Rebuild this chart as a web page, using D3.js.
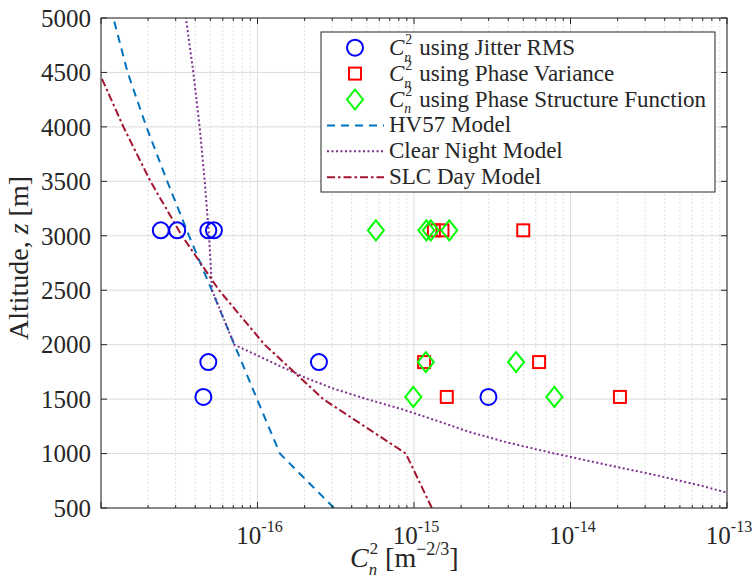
<!DOCTYPE html>
<html>
<head>
<meta charset="utf-8">
<script src="https://cdn.jsdelivr.net/npm/d3@7"></script>
<style>
body { margin: 0; background: #fff; }
text { font-family: "Liberation Serif", serif; fill: #262626; }
</style>
</head>
<body>
<svg id="chart" width="752" height="580"></svg>
<script>
// measured points (altitude in m, Cn2 in m^-2/3)
var jitterAlt = [3050, 3050, 3050, 3050, 1840, 1840, 1520, 1520];
var jitterRms = [2.41e-17, 3.07e-17, 4.85e-17, 5.27e-17, 4.85e-17, 2.47e-16, 4.51e-17, 2.99e-15];

var phaseVarAlt = [3050, 3050, 3050, 1840, 1840, 1520, 1520];
var phaseVariance = [1.34e-15, 1.52e-15, 4.99e-15, 1.16e-15, 6.3e-15, 1.62e-15, 2.07e-14];

var structAlt = [3050, 3050, 3050, 3050, 1840, 1840, 1520, 1520];
var phaseStructure = [5.71e-16, 1.2e-15, 1.28e-15, 1.68e-15, 1.19e-15, 4.49e-15, 9.9e-16, 7.89e-15];

// model profiles
var modelAlt = [500, 1000, 1500, 2000, 2500, 3000, 3500, 4000, 4500, 5000];
var hv57 = [3.08e-16, 1.39e-16, 9.93e-17, 7.12e-17, 5.1e-17, 3.65e-17, 2.65e-17, 1.95e-17, 1.48e-17, 1.2e-17];
var slcDay = [1.3e-15, 8.87e-16, 2.63e-16, 1.11e-16, 5.68e-17, 3.29e-17, 2.07e-17, 1.39e-17, 9.73e-18, 7.1e-18];

var nightAlt = [600, 700, 800, 900, 1000, 1100, 1200, 1300, 1400, 1500, 1600, 1700, 1800, 1900, 2000, 2500, 3000, 3500, 4000, 4500, 5000];
var clearNight = [1.26e-13, 7.08e-14, 3.55e-14, 1.66e-14, 7.94e-15, 3.98e-15, 2.24e-15, 1.41e-15, 8.7e-16, 5.0e-16, 3.0e-16, 2.0e-16, 1.41e-16, 1.0e-16, 7.1e-17, 5.13e-17, 4.9e-17, 4.6e-17, 4.27e-17, 3.89e-17, 3.49e-17];

var xTickLabels = ["-16", "-15", "-14", "-13"];

var pLeft = 101, pRight = 727, pTop = 18, pBottom = 508;
var axisColor = "#262626";

var svg = d3.select("#chart");
var xScale = d3.scaleLog().domain([1e-17, 1e-13]).range([pLeft, pRight]);
var yScale = d3.scaleLinear().domain([500, 5000]).range([pBottom, pTop]);

var xTicks = xScale.ticks();
var isMajor = function(v){ return Math.abs(Math.log10(v) - Math.round(Math.log10(v))) < 1e-6; };
var xMajor = xTicks.filter(isMajor);
var xMinor = xTicks.filter(function(v){ return !isMajor(v); });
var yTicks = yScale.ticks(10);

// grid
var grid = svg.append("g");
grid.selectAll(".minor").data(xMinor).enter().append("line")
    .attr("x1", function(d){ return xScale(d); }).attr("x2", function(d){ return xScale(d); })
    .attr("y1", pTop).attr("y2", pBottom)
    .attr("stroke", "#d4d4d4").attr("stroke-width", 1).attr("stroke-dasharray", "1.5,2.5");
grid.selectAll(".major").data(xMajor).enter().append("line")
    .attr("x1", function(d){ return xScale(d); }).attr("x2", function(d){ return xScale(d); })
    .attr("y1", pTop).attr("y2", pBottom)
    .attr("stroke", "#dcdcdc").attr("stroke-width", 1);
grid.selectAll(".ygrid").data(yTicks).enter().append("line")
    .attr("x1", pLeft).attr("x2", pRight)
    .attr("y1", function(d){ return yScale(d); }).attr("y2", function(d){ return yScale(d); })
    .attr("stroke", "#dcdcdc").attr("stroke-width", 1);

// model lines
svg.append("clipPath").attr("id", "plotclip").append("rect")
    .attr("x", pLeft).attr("y", pTop).attr("width", pRight - pLeft).attr("height", pBottom - pTop);

var line = d3.line().x(function(d){ return xScale(d[1]); }).y(function(d){ return yScale(d[0]); });
var models = [
    { alt: modelAlt, val: hv57, color: "#0072bd", dash: "8,6" },
    { alt: nightAlt, val: clearNight, color: "#7e2f8e", dash: "2,2.5" },
    { alt: modelAlt, val: slcDay, color: "#a2142f", dash: "8,3,2.5,3" }
];
var lines = svg.append("g").attr("clip-path", "url(#plotclip)");
models.forEach(function(m){
    lines.append("path")
        .datum(d3.zip(m.alt, m.val))
        .attr("d", line)
        .attr("fill", "none")
        .attr("stroke", m.color)
        .attr("stroke-width", 2)
        .attr("stroke-dasharray", m.dash);
});

// markers
var marks = svg.append("g");
marks.selectAll(".circ").data(d3.zip(jitterAlt, jitterRms)).enter().append("circle")
    .attr("cx", function(d){ return xScale(d[1]); })
    .attr("cy", function(d){ return yScale(d[0]); })
    .attr("r", 8).attr("fill", "none").attr("stroke", "#0000ff").attr("stroke-width", 2);
marks.selectAll(".sq").data(d3.zip(phaseVarAlt, phaseVariance)).enter().append("rect")
    .attr("x", function(d){ return xScale(d[1]) - 6; })
    .attr("y", function(d){ return yScale(d[0]) - 6; })
    .attr("width", 12).attr("height", 12)
    .attr("fill", "none").attr("stroke", "#ff0000").attr("stroke-width", 2);
var diamond = function(cx, cy){ return "M" + cx + "," + (cy - 10) + "L" + (cx + 8) + "," + cy + "L" + cx + "," + (cy + 10) + "L" + (cx - 8) + "," + cy + "Z"; };
marks.selectAll(".dia").data(d3.zip(structAlt, phaseStructure)).enter().append("path")
    .attr("d", function(d){ return diamond(xScale(d[1]), yScale(d[0])); })
    .attr("fill", "none").attr("stroke", "#00ff00").attr("stroke-width", 2);

// box + ticks
var axes = svg.append("g");
axes.append("rect").attr("x", pLeft).attr("y", pTop).attr("width", pRight - pLeft).attr("height", pBottom - pTop)
    .attr("fill", "none").attr("stroke", axisColor).attr("stroke-width", 1);
yTicks.forEach(function(t){
    var yy = yScale(t);
    axes.append("line").attr("x1", pLeft).attr("x2", pLeft + 6).attr("y1", yy).attr("y2", yy).attr("stroke", axisColor);
    axes.append("line").attr("x1", pRight).attr("x2", pRight - 6).attr("y1", yy).attr("y2", yy).attr("stroke", axisColor);
    axes.append("text").attr("x", pLeft - 10).attr("y", yy).attr("dy", "0.35em")
        .attr("text-anchor", "end").style("font-size", "25px").text(t);
});
xTicks.forEach(function(t){
    var xx = xScale(t), len = isMajor(t) ? 6 : 3;
    axes.append("line").attr("x1", xx).attr("x2", xx).attr("y1", pBottom).attr("y2", pBottom - len).attr("stroke", axisColor);
    axes.append("line").attr("x1", xx).attr("x2", xx).attr("y1", pTop).attr("y2", pTop + len).attr("stroke", axisColor);
});
xMajor.slice(1).forEach(function(t, i){
    var lab = axes.append("text").attr("x", xScale(t) + 2).attr("y", 544).attr("text-anchor", "middle");
    lab.append("tspan").style("font-size", "25px").text("10");
    lab.append("tspan").attr("dy", -12).style("font-size", "16px").text(xTickLabels[i]);
});

// C_n^2 with stacked sub/superscript, returns x after it
function cn2(g, x0, yb, fs)
{
    var c = g.append("text").attr("x", x0).attr("y", yb).style("font-size", fs + "px").style("font-style", "italic").text("C");
    var w = c.node().getComputedTextLength();
    var s = fs * 0.6;
    var sup = g.append("text").attr("x", x0 + w + 1).attr("y", yb - fs * 0.45).style("font-size", s + "px").text("2");
    var sub = g.append("text").attr("x", x0 + w).attr("y", yb + fs * 0.3).style("font-size", s + "px").style("font-style", "italic").text("n");
    return x0 + w + Math.max(sup.node().getComputedTextLength() + 1, sub.node().getComputedTextLength());
}

// axis titles
var yt = svg.append("text").attr("transform", "translate(28,258) rotate(-90)")
    .attr("text-anchor", "middle").style("font-size", "28px");
yt.append("tspan").text("Altitude, ");
yt.append("tspan").style("font-style", "italic").text("z");
yt.append("tspan").text(" [m]");

var xt = svg.append("g");
var after = cn2(xt, 350, 567, 28);
var rest = xt.append("text").attr("x", after + 7).attr("y", 567).style("font-size", "28px");
rest.append("tspan").text("[m");
rest.append("tspan").attr("dy", -12).style("font-size", "18px").text("\u22122/3");
rest.append("tspan").attr("dy", 12).style("font-size", "28px").text("]");

// legend
var legend = svg.append("g");
legend.append("rect").attr("x", 321).attr("y", 32).attr("width", 394).attr("height", 160)
    .attr("fill", "#fff").attr("stroke", axisColor).attr("stroke-width", 1);
var rowY = function(i){ return 47.7 + i * 25.9; };
var legendText = ["using Jitter RMS", "using Phase Variance", "using Phase Structure Function", "HV57 Model", "Clear Night Model", "SLC Day Model"];

legend.append("circle").attr("cx", 355).attr("cy", rowY(0)).attr("r", 8)
    .attr("fill", "none").attr("stroke", "#0000ff").attr("stroke-width", 2);
legend.append("rect").attr("x", 349).attr("y", rowY(1) - 6).attr("width", 12).attr("height", 12)
    .attr("fill", "none").attr("stroke", "#ff0000").attr("stroke-width", 2);
legend.append("path").attr("d", diamond(355, rowY(2)))
    .attr("fill", "none").attr("stroke", "#00ff00").attr("stroke-width", 2);
models.forEach(function(m, i){
    legend.append("line").attr("x1", 327).attr("x2", 384).attr("y1", rowY(i + 3)).attr("y2", rowY(i + 3))
        .attr("stroke", m.color).attr("stroke-width", 2).attr("stroke-dasharray", m.dash);
});
legendText.forEach(function(t, i){
    var xx = 389;
    if (i < 3) xx = cn2(legend, 389, rowY(i) + 7, 23) + 7;
    legend.append("text").attr("x", xx).attr("y", rowY(i) + 7).style("font-size", "23px").text(t);
});
</script>
</body>
</html>
